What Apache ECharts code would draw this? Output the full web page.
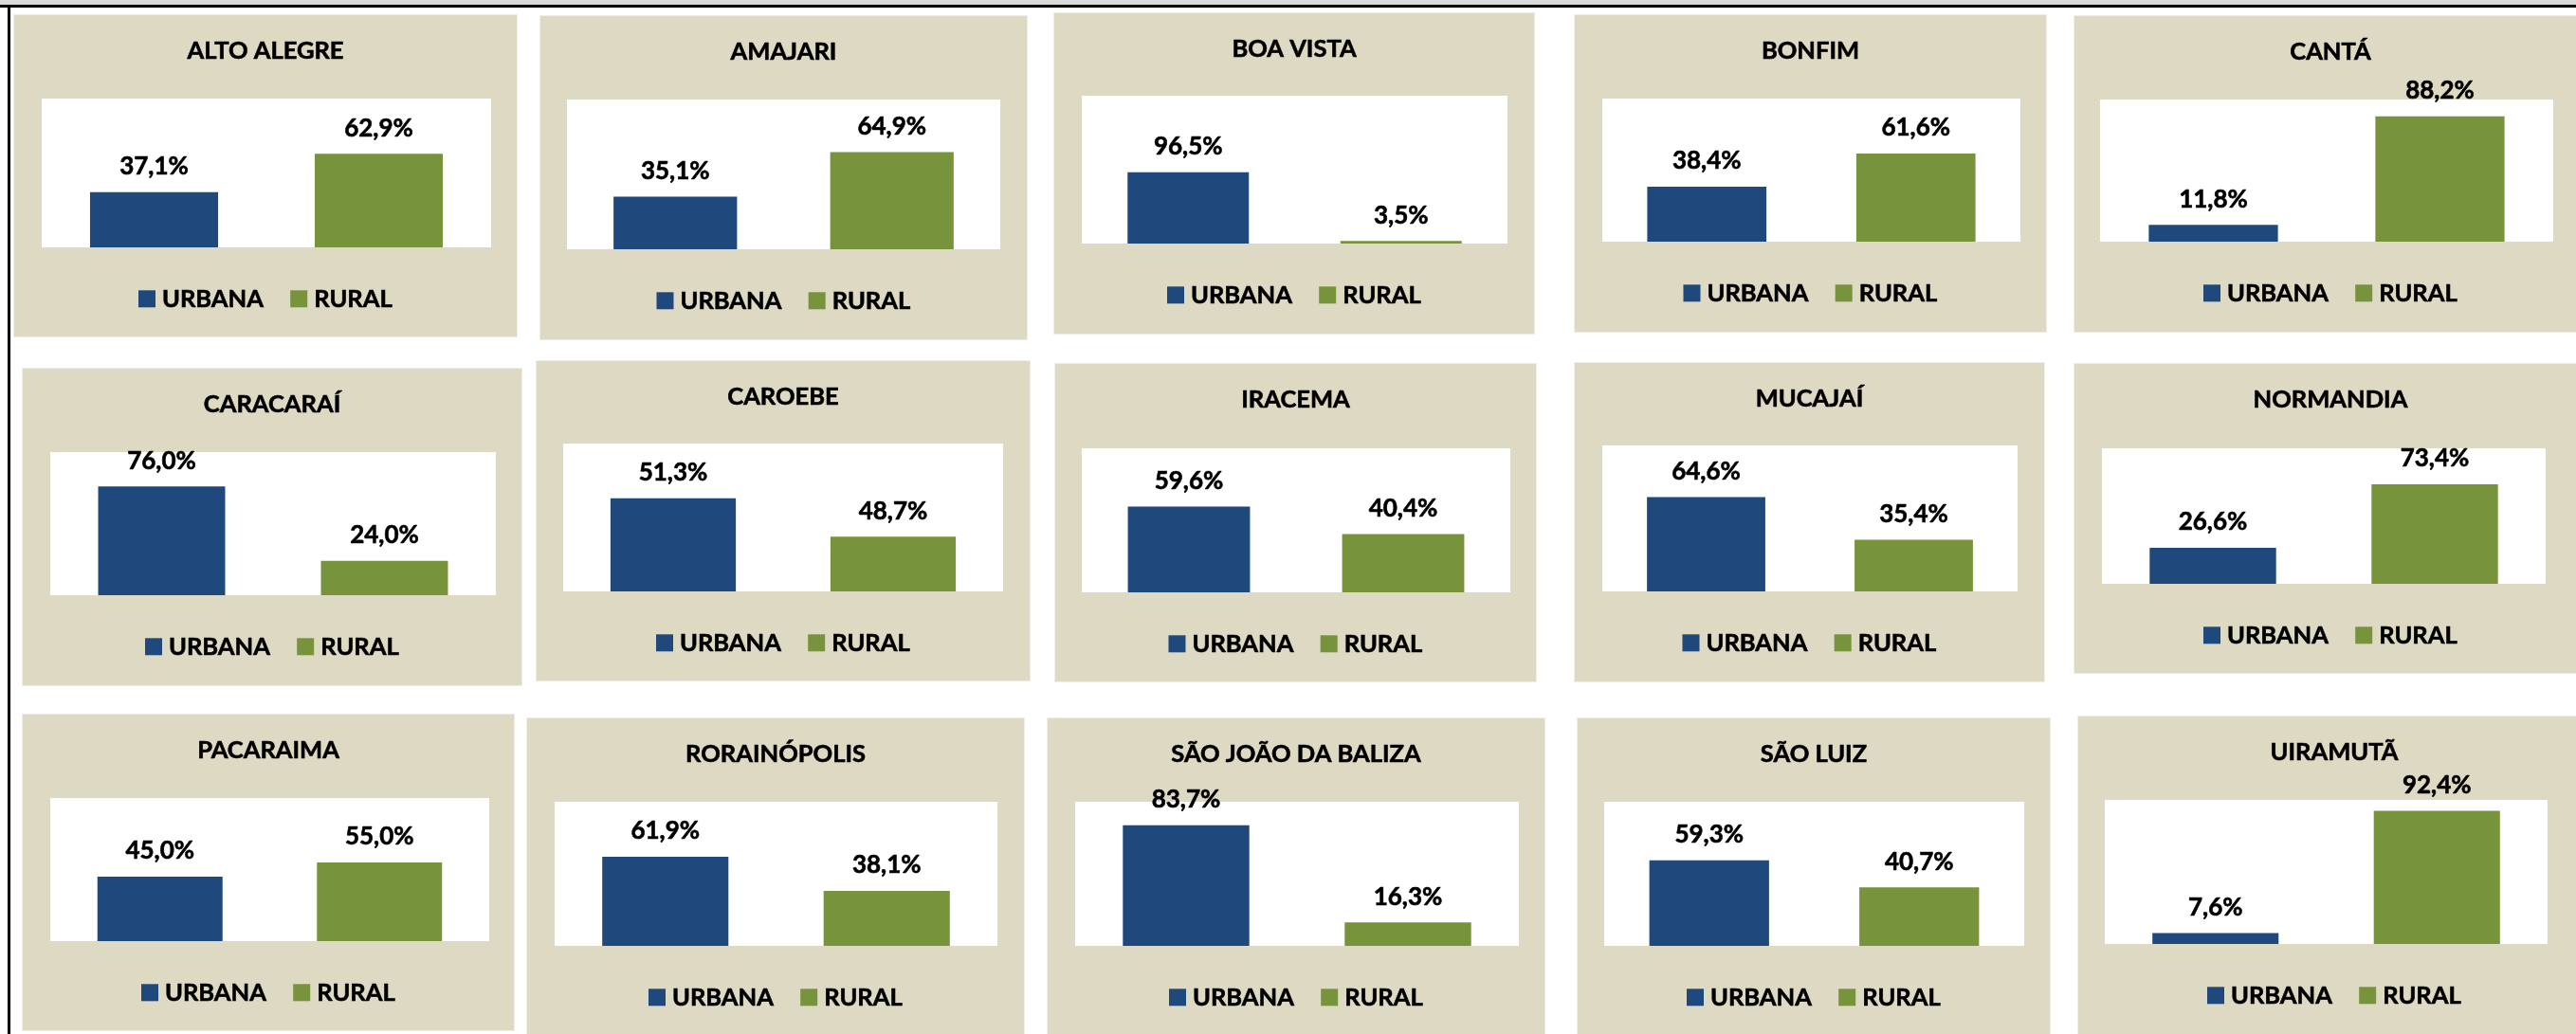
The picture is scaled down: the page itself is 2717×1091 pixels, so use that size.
<!DOCTYPE html>
<html>
<head>
<meta charset="utf-8">
<script src="https://cdn.jsdelivr.net/npm/echarts@6/dist/echarts.min.js"></script>
<style>
  html, body { margin: 0; padding: 0; background: #ffffff; }
  body { width: 2717px; height: 1091px; overflow: hidden; position: relative; }
  #band { position: absolute; left: 0; top: 0; width: 2717px; height: 5px; background: #D9D9D9; }
  #hline { position: absolute; left: 0; top: 5px; width: 2717px; height: 3px; background: #000; }
  #vline { position: absolute; left: 8px; top: 5px; width: 3px; height: 1086px; background: #000; }
  .panel { position: absolute; box-shadow: 0 0 0 1px #EEEDE6; }
</style>
</head>
<body>
<div id="band"></div>
<div id="hline"></div>
<div id="vline"></div>
<div id="wrap"></div>
<script>
// ---- data ----
const municipios = ['ALTO ALEGRE', 'AMAJARI', 'BOA VISTA', 'BONFIM', 'CANTÁ',
  'CARACARAÍ', 'CAROEBE', 'IRACEMA', 'MUCAJAÍ', 'NORMANDIA',
  'PACARAIMA', 'RORAINÓPOLIS', 'SÃO JOÃO DA BALIZA', 'SÃO LUIZ', 'UIRAMUTÃ'];
const urbana = [37.1, 35.1, 96.5, 38.4, 11.8, 76.0, 51.3, 59.6, 64.6, 26.6, 45.0, 61.9, 83.7, 59.3, 7.6];
const rural  = [62.9, 64.9, 3.5, 61.6, 88.2, 24.0, 48.7, 40.4, 35.4, 73.4, 55.0, 38.1, 16.3, 40.7, 92.4];
const seriesNames = ['URBANA', 'RURAL'];
// value-axis ranges as they appear in each original chart
const axisMin = [0, 0, 0, 0, 0, 0, 45, 0, 0, 0, 0, 0, 0, 0, 0];
const axisMax = [100, 100, 200, 100, 100, 100, 55, 100, 100, 100, 100, 100, 100, 100, 100];

// ---- layout (panel x, y, w, h, grid left, top, width, height) ----
const layout = [
  [15, 16, 530, 339, 29, 88, 474, 157],
  [570, 17, 513, 341, 28, 88, 457, 158],
  [1112, 14, 506, 338, 29, 87, 449, 156],
  [1661, 16, 497, 334, 29, 88, 441, 151],
  [2188, 17, 540, 333, 27, 88, 478, 150],
  [24, 389, 526, 334, 29, 88, 470, 151],
  [566, 381, 520, 337, 28, 87, 464, 156],
  [1113, 384, 507, 335, 28, 89, 452, 152],
  [1661, 383, 495, 336, 29, 87, 438, 154],
  [2188, 384, 540, 326, 29, 89, 468, 143],
  [24, 754, 518, 333, 29, 88, 463, 151],
  [556, 758, 524, 340, 29, 88, 467, 152],
  [1105, 758, 524, 340, 29, 88, 468, 152],
  [1664, 758, 498, 340, 28, 88, 443, 152],
  [2192, 756, 540, 340, 28, 88, 467, 152]
];
const colors = ['#1F497D', '#77933C'];
const FONT = 'Lato';

const fmt = v => v.toFixed(1).replace('.', ',') + '%';

const wrap = document.getElementById('wrap');
municipios.forEach((name, i) => {
  const L = layout[i];
  const div = document.createElement('div');
  div.className = 'panel';
  div.style.left = L[0] + 'px';
  div.style.top = L[1] + 'px';
  div.style.width = L[2] + 'px';
  div.style.height = L[3] + 'px';
  wrap.appendChild(div);
  const chart = echarts.init(div, null, { renderer: 'canvas' });
  const labelStyle = {
    show: true, position: 'top', distance: 14,
    formatter: p => fmt(p.value),
    fontFamily: FONT, fontWeight: 'bold', fontSize: 26, color: '#000',
    textBorderColor: '#000', textBorderWidth: 0.6
  };
  chart.setOption({
    animation: false,
    backgroundColor: '#DDD9C3',
    title: {
      text: name, left: 'center', top: 25, padding: 0,
      textStyle: { fontFamily: FONT, fontWeight: 'bold', fontSize: 25.5, color: '#000',
        textBorderColor: '#000', textBorderWidth: 0.6 }
    },
    legend: {
      data: seriesNames, left: 'center', top: L[5] + L[7] + 41, padding: 0,
      icon: 'rect', itemWidth: 18, itemHeight: 18, itemGap: 28,
      textStyle: { fontFamily: FONT, fontWeight: 'bold', fontSize: 25.5, color: '#000', padding: [0, 0, 0, 2],
        textBorderColor: '#000', textBorderWidth: 0.6 },
      selectedMode: false
    },
    grid: {
      left: L[4], top: L[5], width: L[6], height: L[7],
      show: true, backgroundColor: '#ffffff', borderWidth: 0
    },
    xAxis: { type: 'category', data: seriesNames, show: false },
    yAxis: { type: 'value', min: axisMin[i], max: axisMax[i], show: false },
    series: [
      { name: seriesNames[0], type: 'bar', data: [urbana[i], '-'], barWidth: '57%', barGap: '-100%',
        itemStyle: { color: colors[0] }, label: labelStyle, clip: true },
      { name: seriesNames[1], type: 'bar', data: ['-', rural[i]], barWidth: '57%', barGap: '-100%',
        itemStyle: { color: colors[1] }, label: labelStyle, clip: true }
    ]
  });
});
</script>
</body>
</html>
